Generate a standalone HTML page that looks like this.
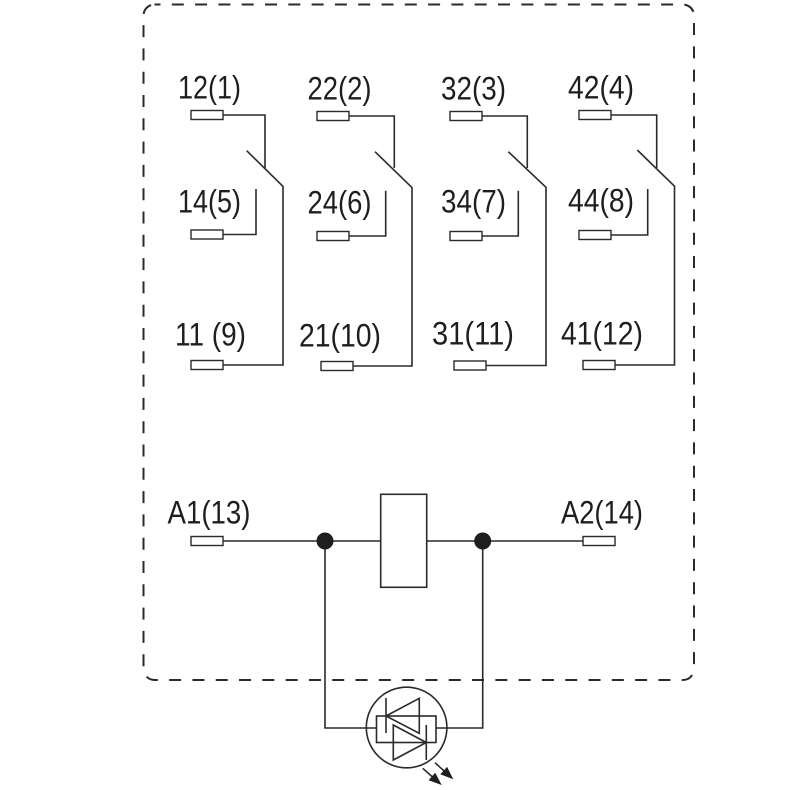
<!DOCTYPE html>
<html>
<head>
<meta charset="utf-8">
<style>
  html, body { margin:0; padding:0; background:#fff; }
  svg { display:block; }
  text { font-family: "Liberation Sans Narrow", "Liberation Sans", sans-serif; font-size:32px; fill:#1e1e1e; }
</style>
</head>
<body>
<svg width="790" height="790" viewBox="0 0 790 790" xmlns="http://www.w3.org/2000/svg">
  <!-- dashed enclosure -->
  <rect x="143.5" y="4.5" width="550.5" height="675.5" rx="11" ry="11" fill="none" stroke="#2a2a2a" stroke-width="2" stroke-dasharray="12 11.3" stroke-dashoffset="6"/>

  <g fill="none" stroke="#2a2a2a" stroke-width="1.6">
    <!-- Column 1 -->
    <polyline points="223,115 265,115 265,168"/>
    <line x1="246.7" y1="150.7" x2="283.3" y2="186.7"/>
    <polyline points="283,186.5 283,365 223,365"/>
    <polyline points="223,234.5 256,234.5 256,189"/>

    <!-- Column 2 -->
    <polyline points="349,116 394.3,116 394.3,168"/>
    <line x1="375" y1="151.7" x2="411.7" y2="187.3"/>
    <polyline points="412,187 412,366 353,366"/>
    <polyline points="349,236 385.7,236 385.7,190.7"/>

    <!-- Column 3 -->
    <polyline points="482,116 527.3,116 527.3,168"/>
    <line x1="508.3" y1="151.7" x2="546" y2="187.3"/>
    <polyline points="546,187 546,365.5 486,365.5"/>
    <polyline points="482,236 518.3,236 518.3,190.7"/>

    <!-- Column 4 -->
    <polyline points="611,115 656.7,115 656.7,168"/>
    <line x1="637.3" y1="150" x2="675" y2="186.7"/>
    <polyline points="674.5,186.5 674.5,365 615,365"/>
    <polyline points="611,235 647.7,235 647.7,189"/>

    <!-- Coil circuit -->
    <line x1="223" y1="541" x2="381" y2="541"/>
    <line x1="427" y1="541" x2="583" y2="541"/>
    <rect x="380.7" y="494.3" width="46" height="93" fill="#fff"/>
    <polyline points="325,541 325,728 376.5,728"/>
    <polyline points="482.7,541 482.7,728 436,728"/>

    <!-- LED symbol -->
    <circle cx="406.6" cy="727.5" r="40.3" fill="none"/>
    <rect x="376.5" y="716" width="59.5" height="26.5" fill="none"/>
    <!-- upper diode (pointing left) -->
    <line x1="386" y1="698" x2="386" y2="733"/>
    <polygon points="386,716 419.3,698.3 419.3,733.3" fill="none"/>
    <!-- lower diode (pointing right) -->
    <line x1="426.3" y1="725" x2="426.3" y2="760"/>
    <polygon points="426.3,742.5 393.3,725 393.3,760" fill="none"/>
    <!-- arrows -->
    <line x1="422.7" y1="768.3" x2="432.5" y2="777"/>
    <line x1="435" y1="762.7" x2="444.3" y2="771.2"/>
  </g>
  <polygon points="441.7,785 428.6,780.2 435.2,772.7" fill="#1e1e1e"/>
  <polygon points="453.3,779.3 440.3,774.3 447.1,766.9" fill="#1e1e1e"/>

  <!-- junction dots -->
  <circle cx="325" cy="541" r="8.5" fill="#1e1e1e"/>
  <circle cx="482.7" cy="541" r="8.5" fill="#1e1e1e"/>

  <!-- terminals -->
  <g fill="#fff" stroke="#2a2a2a" stroke-width="1.4">
    <rect x="191" y="110.5" width="32" height="9"/>
    <rect x="317" y="111.5" width="32" height="9"/>
    <rect x="450" y="111.5" width="32" height="9"/>
    <rect x="579" y="110.5" width="32" height="9"/>

    <rect x="191" y="230" width="32" height="9"/>
    <rect x="317" y="231.5" width="32" height="9"/>
    <rect x="450" y="231.5" width="32" height="9"/>
    <rect x="579" y="230.5" width="32" height="9"/>

    <rect x="191" y="360.5" width="32" height="9"/>
    <rect x="321" y="361.5" width="32" height="9"/>
    <rect x="454" y="361" width="32" height="9"/>
    <rect x="583" y="360.5" width="32" height="9"/>

    <rect x="191" y="536.5" width="32" height="9"/>
    <rect x="583" y="536.5" width="32" height="9"/>
  </g>

  <!-- labels -->
  <text x="178" y="98.5" textLength="63" lengthAdjust="spacingAndGlyphs">12(1)</text>
  <text x="307.5" y="99.5" textLength="64" lengthAdjust="spacingAndGlyphs">22(2)</text>
  <text x="441" y="99.5" textLength="65" lengthAdjust="spacingAndGlyphs">32(3)</text>
  <text x="568" y="98.5" textLength="66" lengthAdjust="spacingAndGlyphs">42(4)</text>

  <text x="178" y="212.5" textLength="63" lengthAdjust="spacingAndGlyphs">14(5)</text>
  <text x="307.5" y="213.5" textLength="64" lengthAdjust="spacingAndGlyphs">24(6)</text>
  <text x="441" y="212.5" textLength="65" lengthAdjust="spacingAndGlyphs">34(7)</text>
  <text x="568" y="211.5" textLength="66" lengthAdjust="spacingAndGlyphs">44(8)</text>

  <text x="175" y="345.5" textLength="71" lengthAdjust="spacingAndGlyphs">11 (9)</text>
  <text x="299" y="346.5" textLength="82" lengthAdjust="spacingAndGlyphs">21(10)</text>
  <text x="432" y="344.5" textLength="82" lengthAdjust="spacingAndGlyphs">31(11)</text>
  <text x="561" y="344.5" textLength="82" lengthAdjust="spacingAndGlyphs">41(12)</text>

  <text x="167.5" y="523.5" textLength="83" lengthAdjust="spacingAndGlyphs">A1(13)</text>
  <text x="561" y="523.5" textLength="82" lengthAdjust="spacingAndGlyphs">A2(14)</text>
</svg>
</body>
</html>
